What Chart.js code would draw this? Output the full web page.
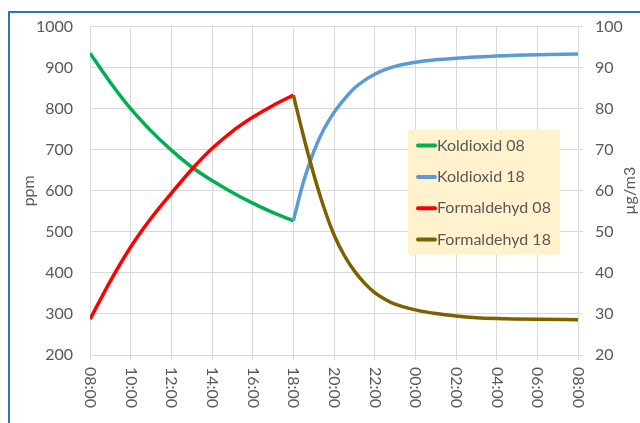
<!DOCTYPE html>
<html>
<head>
<meta charset="utf-8">
<script src="https://cdn.jsdelivr.net/npm/chart.js@4.4.1/dist/chart.umd.min.js"></script>
<style>
  html, body { margin: 0; padding: 0; background: #fff; }
  #wrap { position: relative; width: 640px; height: 423px; overflow: hidden; }
  #frame { position: absolute; left: 8px; top: 11px; width: 700px; height: 500px;
           border-left: 2px solid #2e75b6; border-top: 2px solid #2e75b6; }
  canvas { position: absolute; left: 0; top: 0; }
</style>
</head>
<body>
<div id="wrap">
  <div id="frame"></div>
  <canvas id="chart" width="640" height="423"></canvas>
</div>
<script>
// ── Data (x = hours after 08:00) ───────────────────────────
const xTickLabels = ['08:00', '10:00', '12:00', '14:00', '16:00', '18:00', '20:00',
                     '22:00', '00:00', '02:00', '04:00', '06:00', '08:00'];
const hoursDay   = [0, 1, 2, 3, 4, 5, 6, 7, 8, 9, 10];
const koldioxid08   = [935, 864, 800, 746, 699, 658, 625, 596, 570, 547, 527];
const formaldehyd08 = [28.7, 38, 46.3, 53.3, 59.4, 65.2, 70.3, 74.5, 77.9, 80.8, 83.3];
const hoursNight = [10, 10.5, 11, 11.5, 12, 12.5, 13, 13.5, 14, 14.5, 15, 16, 17, 18, 19, 20, 22, 24];
const koldioxid18   = [527, 622, 695, 750, 791, 823, 850, 869, 884, 895, 903, 913, 919, 923, 926, 928.5, 931.5, 933];
const formaldehyd18 = [83.3, 73.3, 64.1, 56, 49.3, 44.3, 40.5, 37.5, 35.2, 33.6, 32.4, 31, 30.1, 29.5, 29.1, 28.9, 28.7, 28.6];
const seriesNames = ['Koldioxid 08', 'Koldioxid 18', 'Formaldehyd 08', 'Formaldehyd 18'];

const TEXT = '#595959';
const GRID = '#d9d9d9';
const FONT = 'Lato';
const SIZE = 16;

const pts = (xs, ys) => xs.map((x, i) => ({ x, y: ys[i] }));

const line = (label, data, color, axis, order) => ({
  label, data, yAxisID: axis, order,
  borderColor: color, backgroundColor: color, borderWidth: 3.5,
  pointRadius: 0, cubicInterpolationMode: 'monotone', fill: false,
});

// x labels read top-to-bottom, right title bottom-to-top, legend sits inside the plot
const extras = {
  id: 'extras',
  afterDraw(chart) {
    const { ctx, chartArea: a, scales } = chart;
    ctx.save();
    ctx.fillStyle = TEXT;
    ctx.font = `${SIZE}px ${FONT}`;

    ctx.textAlign = 'left';
    ctx.textBaseline = 'middle';
    scales.x.ticks.forEach((t) => {
      const px = scales.x.getPixelForValue(t.value);
      ctx.save();
      ctx.translate(px, a.bottom + 12);
      ctx.rotate(Math.PI / 2);
      ctx.fillText(xTickLabels[Math.round(t.value / 2)], 0, 0);
      ctx.restore();
    });

    ctx.save();
    ctx.translate(scales.ug.left + 52, (a.top + a.bottom) / 2);
    ctx.rotate(-Math.PI / 2);
    ctx.textAlign = 'center';
    ctx.fillText('µg/m3', 0, 0);
    ctx.restore();

    const lx = a.left + 318, ly = a.top + 103;
    ctx.fillStyle = '#fff2cc';
    ctx.fillRect(lx, ly, 152, 125);
    const byLabel = {};
    chart.data.datasets.forEach((d) => { byLabel[d.label] = d; });
    seriesNames.forEach((name, i) => {
      const y = ly + 16 + i * 31.3;
      ctx.strokeStyle = byLabel[name].borderColor;
      ctx.lineWidth = 4;
      ctx.lineCap = 'round';
      ctx.beginPath();
      ctx.moveTo(lx + 10, y);
      ctx.lineTo(lx + 27, y);
      ctx.stroke();
      ctx.fillStyle = TEXT;
      ctx.textAlign = 'left';
      ctx.fillText(name, lx + 29, y);
    });
    ctx.restore();
  }
};

new Chart(document.getElementById('chart'), {
  type: 'line',
  data: {
    datasets: [
      line(seriesNames[0], pts(hoursDay, koldioxid08), '#00b050', 'ppm', 4),
      line(seriesNames[1], pts(hoursNight, koldioxid18), '#5b9bd5', 'ppm', 3),
      line(seriesNames[2], pts(hoursDay, formaldehyd08), '#ff0000', 'ug', 2),
      line(seriesNames[3], pts(hoursNight, formaldehyd18), '#7f6000', 'ug', 1),
    ]
  },
  options: {
    responsive: false,
    animation: false,
    layout: { padding: { left: 9, right: 0, top: 16, bottom: 63 } },
    font: { family: FONT, size: SIZE },
    color: TEXT,
    plugins: { legend: { display: false }, tooltip: { enabled: false } },
    scales: {
      x: {
        type: 'linear', min: 0, max: 24,
        ticks: { display: false, stepSize: 2 },
        grid: { color: GRID, tickLength: 5 },
        border: { color: GRID },
      },
      ppm: {
        position: 'left', min: 200, max: 1000,
        afterFit: (s) => { s.width = 81; },
        ticks: { stepSize: 100, padding: 17, color: TEXT, font: { family: FONT, size: SIZE },
                 callback: (v) => String(v) },
        grid: { color: GRID, drawTicks: false },
        border: { display: false },
        title: { display: true, text: 'ppm', color: TEXT, font: { family: FONT, size: SIZE },
                 padding: { top: 10, bottom: 0 } },
      },
      ug: {
        position: 'right', min: 20, max: 100,
        afterFit: (s) => { s.width = 62; },
        ticks: { stepSize: 10, padding: 12, color: TEXT, font: { family: FONT, size: SIZE },
                 callback: (v) => String(v) },
        grid: { drawOnChartArea: false, color: GRID, tickLength: 5 },
        border: { color: GRID },
      },
    }
  },
  plugins: [extras]
});
</script>
</body>
</html>
